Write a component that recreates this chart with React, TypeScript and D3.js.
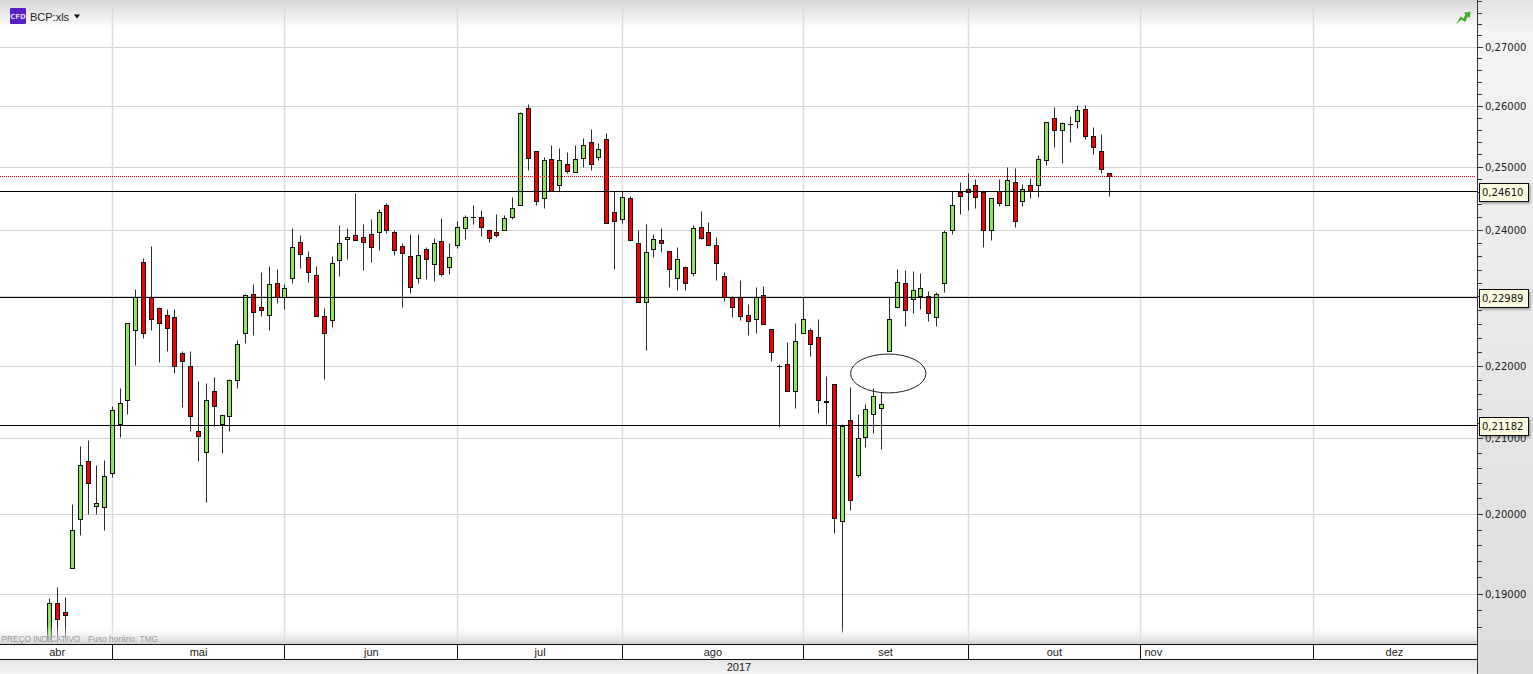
import React from 'react';
import * as d3 from 'd3';

const W = 1533;
const H = 674;

const opens = [
  0.18198, 0.1889, 0.1878, 0.19313, 0.19939, 0.20687, 0.20107, 0.20094, 0.20529, 0.21191,
  0.21514, 0.22503, 0.23507, 0.22988, 0.22835, 0.2272, 0.22691, 0.22185, 0.21997, 0.21099,
  0.20818, 0.21638, 0.21191, 0.21293, 0.21804, 0.2246, 0.23039, 0.22849, 0.2272, 0.23205,
  0.22994, 0.2328, 0.23823, 0.23597, 0.23311, 0.22705, 0.22647, 0.23537, 0.23869, 0.23929,
  0.23899, 0.23944, 0.23974, 0.24398, 0.23974, 0.23763, 0.23612, 0.2328, 0.23718, 0.23477,
  0.23838, 0.23431, 0.23778, 0.24036, 0.24209, 0.24209, 0.24005, 0.23974, 0.24005, 0.24209,
  0.24398, 0.25963, 0.25259, 0.24493, 0.25128, 0.24713, 0.25046, 0.24918, 0.25144, 0.25406,
  0.2516, 0.25455, 0.24288, 0.24178, 0.24493, 0.23808, 0.22922, 0.23718, 0.23854, 0.23687,
  0.2328, 0.23431, 0.23341, 0.24052, 0.23974, 0.23778, 0.23296, 0.22994, 0.22994, 0.2272,
  0.22662, 0.23024, 0.22517, 0.21997, 0.22026, 0.21638, 0.2246, 0.22503, 0.22402, 0.215,
  0.21735, 0.19914, 0.21238, 0.20502, 0.21017, 0.2132, 0.21403, 0.22214, 0.22849, 0.23205,
  0.22965, 0.23009, 0.23009, 0.22691, 0.23205, 0.24005, 0.24603, 0.2465, 0.24713, 0.24603,
  0.24005, 0.24619, 0.24398, 0.24761, 0.24461, 0.24713, 0.24713, 0.25111, 0.25799, 0.25602,
  0.25701, 0.2575, 0.25946, 0.25504, 0.25259, 0.24902,
];
const closes = [
  0.1889, 0.18699, 0.18739, 0.19801, 0.20634, 0.20405, 0.20146, 0.20489, 0.21376, 0.21472,
  0.22604, 0.22988, 0.2246, 0.22662, 0.22604, 0.22532, 0.21997, 0.22064, 0.21293, 0.2103,
  0.21514, 0.21431, 0.21307, 0.21804, 0.22301, 0.23024, 0.22777, 0.22806, 0.2319, 0.22994,
  0.2313, 0.23748, 0.23642, 0.23356, 0.22705, 0.2246, 0.23492, 0.23808, 0.23899, 0.23854,
  0.23823, 0.23748, 0.24288, 0.24005, 0.23703, 0.23657, 0.23145, 0.23627, 0.23552, 0.23808,
  0.23326, 0.23582, 0.24052, 0.24209, 0.24209, 0.24052, 0.23884, 0.23929, 0.24194, 0.24351,
  0.25881, 0.25144, 0.24461, 0.25111, 0.24619, 0.25111, 0.24934, 0.25128, 0.25357, 0.25046,
  0.25291, 0.24115, 0.24146, 0.24509, 0.23854, 0.22922, 0.23673, 0.23869, 0.23808, 0.23401,
  0.23552, 0.23205, 0.24036, 0.23884, 0.23778, 0.23492, 0.22994, 0.22849, 0.22705, 0.22633,
  0.22994, 0.2259, 0.22199, 0.21997, 0.21638, 0.22344, 0.22662, 0.22301, 0.21514, 0.21486,
  0.19953, 0.21168, 0.20186, 0.21003, 0.21389, 0.21569, 0.21458, 0.22662, 0.2322, 0.22806,
  0.231, 0.2313, 0.22749, 0.23039, 0.23974, 0.24398, 0.2454, 0.24603, 0.24509, 0.24005,
  0.24493, 0.2443, 0.24792, 0.24146, 0.2465, 0.24619, 0.25128, 0.25733, 0.25602, 0.25717,
  0.25701, 0.2593, 0.25504, 0.25324, 0.24965, 0.24855,
];
const highs = [
  0.18951, 0.19079, 0.18967, 0.20124, 0.20888, 0.20967, 0.20638, 0.20704, 0.21431, 0.21684,
  0.22608, 0.23104, 0.23567, 0.23752, 0.22849, 0.22811, 0.22811, 0.22214, 0.22214, 0.2179,
  0.21749, 0.21845, 0.2132, 0.21812, 0.22358, 0.23029, 0.2319, 0.23356, 0.23461, 0.23401,
  0.2319, 0.24036, 0.23918, 0.23687, 0.23446, 0.22835, 0.23612, 0.24072, 0.24036, 0.24572,
  0.24088, 0.24178, 0.24335, 0.2443, 0.24005, 0.23808, 0.23944, 0.23944, 0.23748, 0.23884,
  0.24194, 0.23808, 0.24146, 0.24241, 0.24398, 0.2432, 0.2402, 0.24257, 0.24241, 0.24509,
  0.25897, 0.26029, 0.25259, 0.2516, 0.25357, 0.25308, 0.25242, 0.25357, 0.25471, 0.25619,
  0.2539, 0.25553, 0.24619, 0.24619, 0.2454, 0.24005, 0.24099, 0.23944, 0.24036, 0.23687,
  0.23748, 0.23461, 0.24083, 0.24304, 0.24131, 0.23899, 0.23356, 0.23009, 0.2325, 0.22893,
  0.23145, 0.2316, 0.22517, 0.22026, 0.22329, 0.22604, 0.22994, 0.22532, 0.22662, 0.21856,
  0.21735, 0.21196, 0.21693, 0.2132, 0.21458, 0.21679, 0.21624, 0.22994, 0.23401, 0.23386,
  0.23371, 0.23341, 0.23084, 0.23069, 0.24005, 0.24619, 0.24761, 0.24902, 0.24808, 0.24603,
  0.24493, 0.24808, 0.24997, 0.24981, 0.24729, 0.24824, 0.25193, 0.25733, 0.25978, 0.25733,
  0.25832, 0.26012, 0.26012, 0.25651, 0.25521, 0.24902,
];
const lows = [
  0.18078, 0.18198, 0.18259, 0.19313, 0.19734, 0.20005, 0.20005, 0.19796, 0.20485, 0.21007,
  0.21329, 0.22006, 0.22392, 0.22512, 0.22049, 0.22208, 0.21895, 0.21425, 0.21094, 0.20695,
  0.20154, 0.21163, 0.208, 0.21094, 0.21689, 0.22324, 0.22439, 0.22714, 0.22512, 0.22902,
  0.22815, 0.23199, 0.23425, 0.23214, 0.22705, 0.21812, 0.22555, 0.23305, 0.23561, 0.23854,
  0.23395, 0.23516, 0.23697, 0.23953, 0.23621, 0.22844, 0.23048, 0.23199, 0.23259, 0.23229,
  0.23305, 0.23335, 0.23727, 0.23864, 0.24093, 0.2391, 0.23818, 0.23893, 0.24005, 0.24178,
  0.24398, 0.2495, 0.24392, 0.24345, 0.24619, 0.24619, 0.24902, 0.24918, 0.24986, 0.2495,
  0.25111, 0.24115, 0.2341, 0.24109, 0.23838, 0.22922, 0.22228, 0.23582, 0.23667, 0.23139,
  0.23093, 0.23093, 0.23305, 0.23864, 0.23778, 0.23244, 0.22931, 0.22699, 0.22656, 0.22439,
  0.22468, 0.2259, 0.22059, 0.21155, 0.21638, 0.21412, 0.2246, 0.22136, 0.21342, 0.21168,
  0.19759, 0.18536, 0.20054, 0.20476, 0.20884, 0.21072, 0.20858, 0.22214, 0.22849, 0.22561,
  0.22749, 0.22821, 0.22633, 0.22561, 0.23069, 0.23944, 0.24257, 0.2432, 0.24351, 0.23748,
  0.23854, 0.24383, 0.24398, 0.24052, 0.24383, 0.24493, 0.24509, 0.25029, 0.25324, 0.25062,
  0.25406, 0.25635, 0.25455, 0.2521, 0.24902, 0.2454,
];

// months: label, bar index where the month starts, bar index where its label sits
const months = ['abr', 'mai', 'jun', 'jul', 'ago', 'set', 'out', 'nov', 'dez'];
const monthStarts = [8, 30, 52, 73, 96, 117, 139, 161];
const monthLabelAt = [1, 19, 41, 62.5, 84.5, 106.5, 128, 140.6, 171.3];

const priceLevels = [0.2461, 0.22989, 0.21182];
const lastPrice = 0.2485;
const majorTicks = [0.19, 0.2, 0.21, 0.22, 0.23, 0.24, 0.25, 0.26, 0.27];

const x = d3.scaleLinear().domain([0, 135]).range([49.35, 1109.37]);
const y = d3.scaleLog().domain([0.19, 0.27]).range([594.3, 47.3]);

const px = (v: number) => Math.floor(v) + 0.5;
const ptFormat = d3.formatLocale({ decimal: ',', thousands: '.', grouping: [3], currency: ['', ''] }).format('.5f');
const fs = 'DejaVu Sans, sans-serif';
const ls = 'Liberation Sans, sans-serif';

const Candle = ({ i }: { i: number }) => {
  const cx = px(x(i));
  const up = closes[i] >= opens[i];
  const top = px(y(Math.max(opens[i], closes[i])));
  const bottom = px(y(Math.min(opens[i], closes[i])));
  return (
    <g>
      <line x1={cx} x2={cx} y1={px(y(highs[i]))} y2={px(y(lows[i]))} stroke="#2b2b2b" />
      {opens[i] === closes[i] ? (
        <line x1={cx - 2.5} x2={cx + 2.5} y1={top} y2={top} stroke="#111" />
      ) : (
        <rect x={cx - 2} y={top} width={4} height={Math.max(1, bottom - top)}
          fill={up ? '#8fe35f' : '#f40000'} stroke="#111" />
      )}
    </g>
  );
};

export default function App() {
  const minorTicks = d3.range(0.186, 0.28, 0.002);
  const monthX = monthStarts.map((m) => px(x(m)));
  return (
    <svg width={W} height={H} style={{ position: 'absolute', left: 0, top: 0, display: 'block' }}>
      <defs>
        <linearGradient id="topFade" x1="0" x2="0" y1="0" y2="1">
          <stop offset="0" stopColor="#d6d6d6" />
          <stop offset="1" stopColor="#ffffff" />
        </linearGradient>
        <linearGradient id="botFade" x1="0" x2="0" y1="0" y2="1">
          <stop offset="0" stopColor="#ffffff" stopOpacity="0" />
          <stop offset="1" stopColor="#d2d2d2" />
        </linearGradient>
        <linearGradient id="rowFade" x1="0" x2="0" y1="0" y2="1">
          <stop offset="0" stopColor="#e6e6e6" />
          <stop offset="1" stopColor="#f3f3f3" />
        </linearGradient>
        <linearGradient id="sideFade" x1="0" x2="0" y1="0" y2="1">
          <stop offset="0" stopColor="#e4e4e4" />
          <stop offset="0.05" stopColor="#f4f4f4" />
          <stop offset="1" stopColor="#dcdcdc" />
        </linearGradient>
        <clipPath id="plot"><rect x={0} y={0} width={1477} height={644} /></clipPath>
        <filter id="tipShadow" x="-10%" y="-10%" width="130%" height="140%">
          <feDropShadow dx="1.5" dy="1.5" stdDeviation="1" floodColor="#000" floodOpacity="0.35" />
        </filter>
      </defs>

      <rect x={0} y={0} width={W} height={H} fill="#fff" />
      <rect x={0} y={0} width={1477} height={28} fill="url(#topFade)" />
      <rect x={1477} y={0} width={56} height={H} fill="url(#sideFade)" />

      {/* grid */}
      {majorTicks.map((t) => (
        <line key={t} x1={0} x2={1477} y1={px(y(t))} y2={px(y(t))} stroke="#d4d4d4" />
      ))}
      {monthX.map((m) => (
        <line key={m} x1={m} x2={m} y1={0} y2={644} stroke="#dcdcdc" strokeWidth={1.5} />
      ))}

      {/* candles */}
      <g clipPath="url(#plot)">
        {opens.map((_, i) => <Candle key={i} i={i} />)}
      </g>

      <rect x={0} y={625} width={1477} height={19} fill="url(#botFade)" />

      {/* levels */}
      {priceLevels.map((p) => (
        <line key={p} x1={0} x2={1477} y1={px(y(p))} y2={px(y(p))} stroke="#000" />
      ))}
      <line x1={0} x2={1476} y1={px(y(lastPrice))} y2={px(y(lastPrice))} stroke="#f00000" strokeDasharray="1 1" />

      <ellipse cx={(x(102.04) + x(111.64)) / 2} cy={(y(0.22171) + y(0.21624)) / 2}
        rx={(x(111.64) - x(102.04)) / 2} ry={(y(0.21624) - y(0.22171)) / 2}
        fill="none" stroke="#222" />

      {/* header */}
      <rect x={10} y={8} width={16} height={16} rx={1} fill="#5a1fc4" />
      <text x={18} y={19} textAnchor="middle" fontFamily={fs} fontSize={7} fontWeight="bold" fill="#d9d4ff">CFD</text>
      <text x={30} y={21} fontFamily={ls} fontSize={11} fill="#222">BCP:xls</text>
      <path d="M74 14.5h6l-3 4z" fill="#111" />
      <path d="M1456 24.5L1460.5 16.5L1463.5 18.5L1465.5 14L1463 13L1470.5 11.5L1470 18L1468 16.5L1465 22L1461.5 19.5Z" fill="#3fae2a" />

      <text x={1.5} y={642} fontFamily={ls} fontSize={8.3} fill="#9a9a9a">PREÇO INDICATIVO</text>
      <text x={88} y={642} fontFamily={ls} fontSize={8.4} fill="#9a9a9a">Fuso horário: TMG</text>

      {/* time axis */}
      <rect x={0} y={644} width={1477} height={15} fill="#fff" />
      <rect x={0} y={660} width={1477} height={14} fill="url(#rowFade)" />
      <line x1={0} x2={1477} y1={644.5} y2={644.5} stroke="#111" />
      <line x1={0} x2={1477} y1={659.5} y2={659.5} stroke="#111" />
      {monthX.map((m) => (
        <line key={m} x1={m} x2={m} y1={644} y2={659} stroke="#111" />
      ))}
      {months.map((m, i) => (
        <text key={m} x={x(monthLabelAt[i])} y={656} textAnchor="middle" fontFamily={ls} fontSize={11} fill="#222">{m}</text>
      ))}
      <text x={739} y={671} textAnchor="middle" fontFamily={ls} fontSize={11} fill="#222">2017</text>

      {/* price axis */}
      <line x1={1477.5} x2={1477.5} y1={0} y2={H} stroke="#333" />
      {minorTicks.map((t) => (
        <line key={t} x1={1478} x2={1482} y1={px(y(t))} y2={px(y(t))} stroke="#333" />
      ))}
      {majorTicks.map((t) => (
        <g key={t}>
          <line x1={1478} x2={1483} y1={px(y(t))} y2={px(y(t))} stroke="#333" />
          <text x={1485} y={y(t) + 3.5} fontFamily={fs} fontSize={10} fill="#222">{ptFormat(t)}</text>
        </g>
      ))}

      {/* level tags */}
      {priceLevels.map((p) => (
        <g key={p}>
          <rect x={1479.5} y={px(y(p)) - 8} width={49} height={18} fill="#fdfde2" stroke="#111" filter="url(#tipShadow)" />
          <text x={1482} y={px(y(p)) + 4.5} fontFamily={fs} fontSize={10} fill="#111">{ptFormat(p)}</text>
        </g>
      ))}
    </svg>
  );
}
